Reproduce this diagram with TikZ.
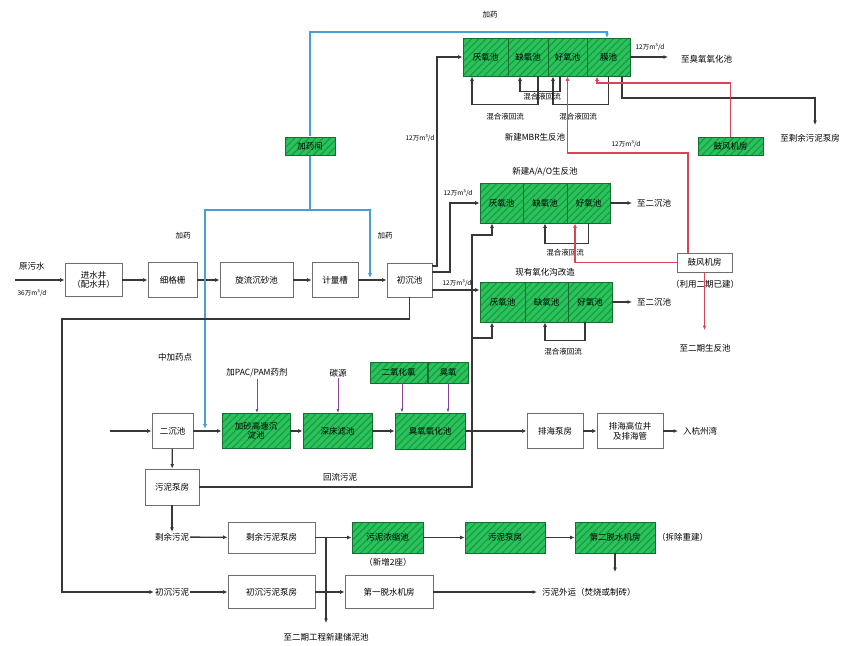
\documentclass[tikz,border=0pt]{standalone}
\usepackage{fontspec}
\setmainfont{Noto Sans CJK SC}
\usetikzlibrary{arrows.meta,patterns.meta}
\definecolor{gfill}{RGB}{40,195,90}
\definecolor{ghatch}{RGB}{30,150,70}
\definecolor{gedge}{RGB}{20,110,50}
\definecolor{lnc}{RGB}{55,55,55}
\definecolor{bl}{RGB}{70,160,215}
\definecolor{rd}{RGB}{215,70,85}
\definecolor{pu}{RGB}{130,70,150}
\definecolor{bxc}{RGB}{110,110,110}
\tikzset{
  lbl/.style={font=\fontsize{8.5}{9.5}\selectfont, inner sep=1pt, align=center},
  sml/.style={font=\fontsize{6.5}{7.5}\selectfont, inner sep=0.5pt},
  mid/.style={font=\fontsize{7.5}{8.5}\selectfont, inner sep=0.5pt},
  box/.style={lbl, draw=bxc, line width=0.9pt, fill=white, inner sep=0pt},
  gbox/.style={lbl, draw=gedge, line width=0.8pt, inner sep=0pt,
    preaction={fill=gfill},
    pattern={Lines[angle=45,distance=5pt,line width=1.1pt]}, pattern color=ghatch},
  flow/.style={draw=lnc, line width=1.3pt},
  arr/.style={flow, -{Latex[length=4.5pt,width=4pt]}},
  bflow/.style={draw=bl, line width=1.6pt},
  rflow/.style={draw=rd, line width=1.4pt},
  rarr/.style={rflow, -{Latex[length=4.5pt,width=4pt]}},
  pflow/.style={draw=pu, line width=0.9pt, -{Latex[length=4pt,width=3pt]}}
}
\begin{document}
\begin{tikzpicture}[x=1pt,y=-1pt]
\useasboundingbox (0,0) rectangle (856,645);

% ---------- row 1 ----------
\coordinate (src) at (15,280);
\node[lbl] (ysw) at (32,266) {原污水};
\node[sml] (ysq) at (32,293) {36万m³/d};
\node[box, minimum width=57, minimum height=33] (jsj) at (93.5,280) {进水井\\（配水井）};
\node[box, minimum width=49, minimum height=35] (xgs) at (172.5,280) {细格栅};
\node[box, minimum width=73, minimum height=35] (xl) at (256.5,280) {旋流沉砂池};
\node[box, minimum width=46, minimum height=35] (jl) at (335,280) {计量槽};
\node[box, minimum width=45, minimum height=34] (cc) at (409.5,280) {初沉池};
\draw[arr] (src) -- (jsj);
\draw[arr] (jsj) -- (xgs);
\draw[arr] (xgs) -- (xl);
\draw[arr] (xl) -- (jl);
\draw[arr] (jl) -- (cc);

% ---------- dosing (blue) ----------
\node[gbox, minimum width=50, minimum height=18] (jyj) at (310,146) {加药间};
\coordinate (bA) at (205,429);
\coordinate (bB) at (370,278);
\coordinate (bJ) at (310,210);
\coordinate (bT) at (607,32);
\draw[bflow, {Latex[length=5pt,width=4.5pt]}-{Latex[length=5pt,width=4.5pt]}] (bA) |- (bJ) -| (bB);
\draw[bflow] (bJ) -- (jyj.south);
\node[mid] (jy1) at (490,15) {加药};
\node[mid] (jy2) at (183,236) {加药};
\node[mid] (jy3) at (385,236) {加药};

% ---------- MBR ----------
\node[gbox, minimum width=45, minimum height=38] (m1) at (485.5,57) {厌氧池};
\node[gbox, minimum width=40, minimum height=38] (m2) at (528,57) {缺氧池};
\node[gbox, minimum width=39, minimum height=38] (m3) at (567.5,57) {好氧池};
\node[gbox, minimum width=43, minimum height=38] (m4) at (608.5,57) {膜池};
\draw[bflow, -{Latex[length=4pt,width=4pt]}] (jyj.north) |- (bT) -- (bT |- m4.north);
\node[lbl] (mbrt) at (535,137) {新建MBR生反池};
\coordinate (mx) at (668,57);
\draw[arr] (m4.east) -- (mx);
\node[sml] (mq) at (650,47) {12万m³/d};
\node[lbl, anchor=west] (mo) at (680,59) {至臭氧氧化池};
\draw[arr] ([xshift=10pt]m2.south) -- ++(0,28) -| ([xshift=-13.5pt]m1.south);
\draw[arr] (m4.south) -- ++(0,28) -| ([xshift=-14.5pt]m3.south);
\draw[arr] ([xshift=-7.5pt]m3.south) -- ++(0,15) -| ([xshift=-8pt]m2.south);
\node[mid] (h1) at (505,117) {混合液回流};
\node[mid] (h2) at (542,97) {混合液回流};
\node[mid] (h3) at (578,117) {混合液回流};
\coordinate (k1) at (815,98);
\coordinate (sl1) at (815,125);
\draw[arr] ([xshift=13.5pt]m4.south) |- (k1) -- (sl1);
\node[lbl] (slt) at (810,138) {至剩余污泥泵房};

% ---------- blowers (red) ----------
\node[gbox, minimum width=65, minimum height=18] (bf1) at (730.5,146) {鼓风机房};
\node[box, minimum width=55, minimum height=19] (bf2) at (704.5,262.5) {鼓风机房};
\node[lbl] (bf2t) at (705,284) {（利用二期已建）};
\coordinate (rr1) at (597,83);
\coordinate (rr2) at (567.5,153);
\coordinate (rr3) at (704.5,330);
\draw[rarr] (bf1.north) |- (rr1) -- (rr1 |- m4.south);
\draw[rarr] ([xshift=-16.5pt]bf2.north) |- (rr2) -- (m3.south);
\node[sml] (rq) at (626,144) {12万m³/d};

% ---------- A/A/O ----------
\node[gbox, minimum width=43, minimum height=40] (a1) at (501.5,203) {厌氧池};
\node[gbox, minimum width=44, minimum height=40] (a2) at (545,203) {缺氧池};
\node[gbox, minimum width=43, minimum height=40] (a3) at (588.5,203) {好氧池};
\node[lbl] (aaot) at (545,172) {新建A/A/O生反池};
\coordinate (ax) at (632,203);
\draw[arr] (a3.east) -- (ax);
\node[lbl, anchor=west] (ao) at (636,203) {至二沉池};
\draw[arr] (a3.south) -- ++(0,20) -| (a2.south);
\node[mid] (h4) at (565,253) {混合液回流};
\draw[rarr] (bf2.west) -| ([xshift=-13.5pt]a3.south);
\draw[rarr] (bf2.south) -- (rr3);
\node[lbl] (rrt) at (705,348) {至二期生反池};

% ---------- oxidation ditch ----------
\node[gbox, minimum width=45, minimum height=40] (o1) at (502.5,302) {厌氧池};
\node[gbox, minimum width=43, minimum height=40] (o2) at (546.5,302) {缺氧池};
\node[gbox, minimum width=44, minimum height=40] (o3) at (590,302) {好氧池};
\node[lbl] (oxt) at (545,272) {现有氧化沟改造};
\coordinate (ox) at (632,302);
\draw[arr] (o3.east) -- (ox);
\node[lbl, anchor=west] (oo) at (636,302) {至二沉池};
\draw[arr] ([xshift=-5pt]o3.south) -- ++(0,18) -| ([xshift=-1.5pt]o2.south);
\node[mid] (h5) at (563,352) {混合液回流};

% ---------- streams from primary clarifier ----------
\coordinate (c3) at ([yshift=-10pt]cc.east);
\draw[arr] ([yshift=14pt]cc.east) -| (437,57) -- (m1.west);
\draw[arr] ([yshift=8pt]cc.east) -| (450,203) -- (a1.west);
\draw[arr] (c3) -- (c3 -| o1.west);
\node[sml, anchor=east] (q1) at (435,138) {12万m³/d};
\node[sml] (q2) at (458,193) {12万m³/d};
\node[sml] (q3) at (457,283) {12万m³/d};

% ---------- row 2 ----------
\coordinate (in2) at (110,431);
\node[box, minimum width=41, minimum height=35] (ec) at (172.5,431) {二沉池};
\node[gbox, minimum width=68, minimum height=35] (jsc) at (256,431) {加砂高速沉\\淀池};
\node[gbox, minimum width=69, minimum height=35] (slc) at (337.5,431) {深床滤池};
\node[gbox, minimum width=70, minimum height=36] (cy) at (430,431) {臭氧氧化池};
\node[box, minimum width=56, minimum height=35] (phb) at (555,431) {排海泵房};
\node[box, minimum width=66, minimum height=35] (phg) at (630,431) {排海高位井\\及排海管};
\coordinate (hz) at (678,431);
\draw[arr] (in2) -- (ec);
\draw[arr] (ec) -- (jsc);
\draw[arr] (jsc) -- (slc);
\draw[arr] (slc) -- (cy);
\draw[arr] (cy) -- (phb);
\draw[arr] (phb) -- (phg);
\draw[arr] (phg) -- (hz);
\node[lbl, anchor=west] (hzt) at (682,431) {入杭州湾};
\node[lbl] (zjy) at (175,357) {中加药点};
\node[lbl] (ch1) at (257,373) {加PAC/PAM药剂};
\node[lbl] (ch2) at (338,373) {碳源};
\node[gbox, minimum width=57, minimum height=21] (clo) at (398.5,372.5) {二氧化氯};
\node[gbox, minimum width=40, minimum height=21] (o3g) at (448,372.5) {臭氧};
\draw[pflow] (ch1) -- (ch1 |- jsc.north);
\draw[pflow] (ch2) -- (ch2 |- slc.north);
\draw[pflow] ([xshift=3.5pt]clo.south) -- ([xshift=3.5pt]clo.south |- cy.north);
\draw[pflow] (o3g.south) -- (o3g.south |- cy.north);

\node[box, minimum width=54, minimum height=36] (wn) at (172,487) {污泥泵房};
\draw[arr] (ec) -- (wn);
\node[lbl] (hlt) at (340,477) {回流污泥};
\coordinate (r1) at (472,235);
\coordinate (r2) at (472,338);
\draw[arr] (wn.east) -| (r1) -| ([xshift=-9.5pt]a1.south);
\draw[arr] (r2) -| ([xshift=-10.5pt]o1.south);

% ---------- row 3 ----------
\node[lbl] (sy) at (172,537) {剩余污泥};
\draw[arr] (wn) -- (sy);
\node[box, minimum width=87, minimum height=31] (sybf) at (271.5,537.5) {剩余污泥泵房};
\node[gbox, minimum width=71, minimum height=31] (nsc) at (387.5,537.5) {污泥浓缩池};
\node[lbl] (nsct) at (388,562) {（新增2座）};
\node[gbox, minimum width=80, minimum height=31] (wn2) at (505,537.5) {污泥泵房};
\node[gbox, minimum width=80, minimum height=31] (ts2) at (615,537.5) {第二脱水机房};
\node[lbl, anchor=west] (ts2t) at (656,537) {（拆除重建）};
\coordinate (cn1) at (326,537.5);
\coordinate (cn2) at (326,623);
\coordinate (ts2o) at (615,572);
\draw[arr] (sy) -- (sybf);
\draw[arr] (sybf) -- (nsc);
\draw[arr] (cn1) -- (cn2);
\node[lbl] (cnt) at (326,637) {至二期工程新建储泥池};
\draw[arr] (nsc) -- (wn2);
\draw[arr] (wn2) -- (ts2);
\draw[arr] (ts2) -- (ts2o);

% ---------- row 4 ----------
\node[lbl] (csw) at (172,592) {初沉污泥};
\node[box, minimum width=87, minimum height=33] (ccbf) at (271.5,592) {初沉污泥泵房};
\node[box, minimum width=88, minimum height=33] (ts1) at (389,592) {第一脱水机房};
\coordinate (wy) at (537,592);
\node[lbl, anchor=west] (wyt) at (541,592) {污泥外运（焚烧或制砖）};
\coordinate (ps1) at (62,319);
\draw[arr] (cc.south) |- (ps1) |- (csw.west);
\draw[arr] (csw) -- (ccbf);
\draw[arr] (ccbf) -- (ts1);
\draw[arr] (ts1) -- (wy);
\end{tikzpicture}
\end{document}
